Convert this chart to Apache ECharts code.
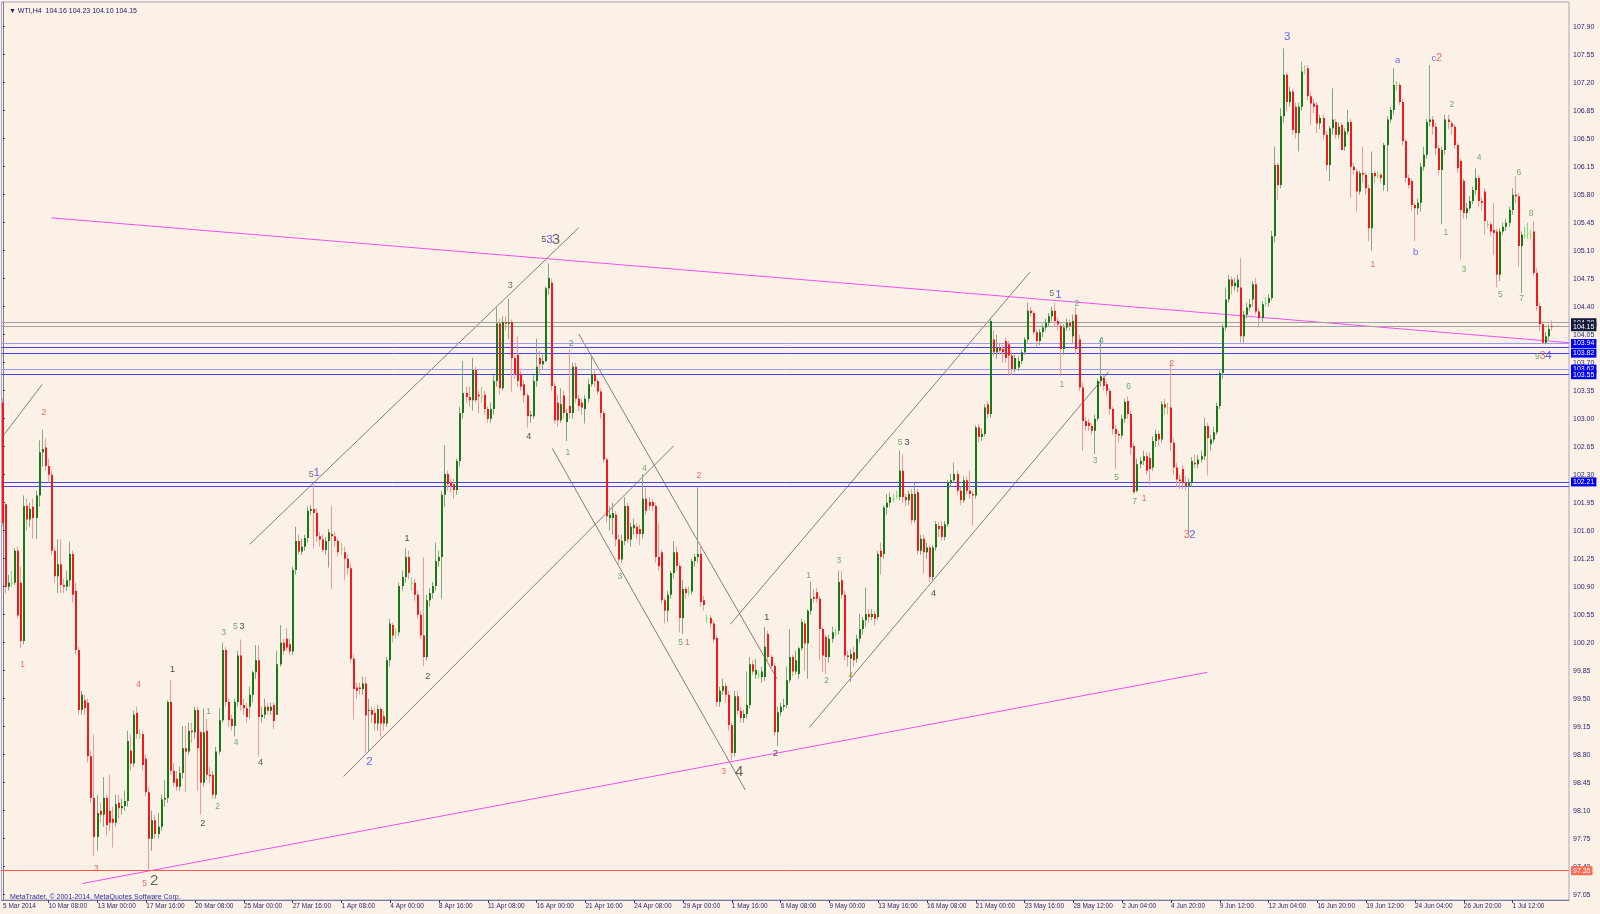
<!DOCTYPE html>
<html><head><meta charset="utf-8">
<script src="https://cdn.jsdelivr.net/npm/echarts@6/dist/echarts.min.js"></script>
<style>html,body{margin:0;padding:0;background:#fbf1e6;}#c{width:1600px;height:914px;}</style>
</head><body><div id="c"></div>
<script>
// rows: [open, close, low, high]  (H4 bars, 5 Mar 2014 20:00 onwards)
const candlesMar = [
[103.20,101.70,101.65,103.25],[101.93,100.90,100.82,101.95],[100.90,100.95,100.85,101.05],[100.95,100.95,100.90,101.10],
[100.95,101.35,100.92,101.38],[101.35,100.54,100.50,101.40],[100.95,100.22,100.13,101.15],[100.22,101.91,100.18,102.04],
[101.91,101.74,101.60,102.00],[101.74,101.87,101.65,101.95],[101.90,101.76,101.50,102.00],[101.76,102.04,101.50,102.10],
[102.04,102.58,101.90,102.73],[102.58,102.62,102.40,102.86],[102.64,102.41,102.35,102.75],[102.41,102.30,102.20,102.50],
[102.30,101.35,101.30,102.35],[101.35,101.03,100.95,101.40],[101.03,101.18,100.82,101.49],[101.18,100.92,100.82,101.49],
[100.92,100.90,100.82,101.00],[100.90,100.98,100.85,101.10],[100.98,101.31,100.90,101.46],[101.31,100.80,100.70,101.35],
[100.85,100.11,100.05,100.95],[100.11,99.36,99.30,100.15],[99.36,99.55,99.30,99.60],[99.48,99.38,99.30,99.55],
[99.45,98.78,98.70,99.50],[98.78,98.26,98.20,98.85],[98.26,97.77,97.53,99.05],[97.77,98.07,97.60,98.30],
[98.10,98.05,97.95,98.20],[98.05,98.26,97.90,98.52],[98.26,97.92,97.79,98.30],[98.10,97.95,97.85,98.55],
[98.00,97.95,97.64,98.15],[97.95,98.18,97.90,98.30],[98.20,98.13,98.00,98.30],[98.13,98.16,98.05,98.25],
[98.16,98.22,98.10,98.35],[98.22,98.97,98.15,99.10],[98.85,98.69,98.60,99.05],[98.69,99.30,98.65,99.35],
[99.32,99.06,99.00,99.40],[99.06,99.06,99.00,99.12],[99.06,98.67,98.60,99.10],[98.75,98.33,98.28,98.80],
[98.33,97.75,97.35,98.40],[97.75,97.98,97.60,98.10],[97.98,97.81,97.75,98.05],[97.81,97.90,97.75,98.07],
[97.90,98.24,97.85,98.30],[98.24,98.26,98.15,98.48],[98.26,99.46,98.20,99.48],[99.46,98.60,98.55,99.74],
[98.60,98.45,98.40,98.70],[98.50,98.40,98.35,98.60],[98.40,98.57,98.35,98.65],[98.57,98.88,98.50,99.16],
[98.88,98.84,98.33,99.16],[98.84,99.10,98.80,99.20],[99.10,99.08,98.95,99.20],[99.08,99.36,99.00,99.40],
[99.36,98.88,98.35,99.40],[99.08,98.45,98.05,99.10],[98.45,99.08,98.40,99.38],[99.10,98.55,98.48,99.25],
[98.55,98.53,98.45,98.65],[98.55,98.30,98.25,98.60],[98.30,98.84,98.25,98.90],[98.84,99.23,98.80,99.38],
[99.23,100.11,99.20,100.20],[100.11,99.46,99.40,100.15],[99.46,99.23,99.15,99.50],[99.25,99.16,99.10,99.30],
[99.16,99.46,99.03,99.50],[99.46,100.04,99.40,100.10],[100.04,99.42,99.35,100.24],[99.42,99.38,99.30,99.50],
[99.38,99.27,99.20,99.45],[99.40,99.55,99.25,99.65],[99.55,99.83,99.45,99.85],[99.83,99.98,99.75,100.17],
[99.98,99.27,98.78,100.17],[99.27,99.30,99.20,99.40],[99.30,99.40,99.25,99.50],[99.40,99.35,99.30,99.45]
];
const candlesApr = [
[99.35,99.40,99.30,99.45],[99.42,99.22,99.12,99.45],[99.30,99.93,99.30,100.10],[99.93,100.20,99.90,100.42],
[100.20,100.10,100.05,100.25],[100.25,100.14,100.10,100.38],[100.18,100.09,100.05,100.25],[100.09,101.11,100.05,101.15],
[101.11,101.47,101.05,101.65],[101.47,101.34,101.30,101.55],[101.34,101.40,101.30,101.50],[101.40,101.51,101.35,101.55],
[101.51,101.85,101.45,101.90],[101.85,101.87,101.80,101.92],[101.87,101.82,101.38,102.18],[101.82,101.53,101.46,101.88],
[101.53,101.49,101.40,101.58],[101.49,101.36,101.33,101.55],[101.36,101.47,101.30,101.52],[101.47,101.58,101.14,101.62],
[101.56,101.53,100.87,101.91],[101.53,101.47,101.40,101.58],[101.47,101.33,101.28,101.50],[101.38,101.38,101.30,101.45],
[101.33,101.25,100.98,101.40],[101.25,101.13,101.05,101.30],[101.13,100.00,99.95,101.18],[100.00,99.62,99.24,100.05],
[99.64,99.60,99.50,99.70],[99.64,99.62,99.55,99.70],[99.62,99.69,99.55,99.78],[99.69,99.29,98.82,99.77],
[99.35,99.36,98.84,99.50],[99.36,99.30,99.20,99.40],[99.32,99.19,99.10,99.38],[99.19,99.37,99.10,99.42],
[99.37,99.19,99.02,99.40],[99.28,99.19,99.10,99.35],[99.19,99.98,99.15,100.02],[99.98,100.44,99.90,100.50],
[100.42,100.29,100.20,100.45],[100.32,100.32,100.25,100.38],[100.33,100.91,100.28,100.95],[100.91,101.02,100.85,101.10],
[101.02,101.27,100.95,101.38],[101.27,101.07,101.00,101.35],[100.95,100.95,100.85,101.02],[100.95,100.80,100.72,101.00],
[100.80,100.55,100.50,100.85],[100.55,100.29,100.25,100.60],[100.29,100.02,99.91,101.27],[100.02,100.73,99.98,100.80],
[100.73,100.82,100.65,100.88],[100.82,100.91,100.75,100.96],[100.91,101.22,100.85,101.45],[101.22,101.27,101.15,101.35],
[101.27,102.05,100.75,102.10],[102.05,102.31,101.90,102.67],[102.31,102.18,102.10,102.35],[102.20,102.16,102.08,102.25],
[102.18,102.11,102.00,102.25],[102.11,102.47,102.05,102.50],[102.47,103.07,102.40,103.15],[103.07,103.32,103.00,103.72],
[103.32,103.27,103.20,103.40],[103.27,103.23,103.15,103.40],[103.23,103.61,103.10,103.76],[103.61,103.23,103.20,103.65],
[103.30,103.28,103.07,103.35],[103.28,103.28,103.20,103.40],[103.30,103.12,103.05,103.35],[103.12,103.00,102.95,103.15],
[103.00,103.12,102.95,103.20],[103.12,103.47,103.05,103.55],[103.47,104.19,103.40,104.39],[104.19,103.38,103.30,104.25],
[103.38,104.21,103.35,104.28],[104.21,104.19,104.10,104.28],[104.19,104.21,104.00,104.50],[104.21,103.76,103.34,104.24],
[103.76,103.56,103.50,103.80],[103.80,103.47,103.40,104.03],[103.56,103.40,103.35,103.60],[103.43,103.29,103.20,103.48],
[103.29,103.03,102.89,103.32],[103.03,103.05,102.95,103.10]
];
const candlesAprMay = [
[103.03,103.47,103.00,103.55],[103.47,103.65,103.40,104.00],[103.76,103.68,103.55,103.85],[103.68,103.72,103.62,103.80],
[103.72,104.63,103.70,104.65],[104.63,104.76,104.55,104.94],[104.70,103.41,103.35,104.75],[103.41,102.98,102.94,103.45],
[103.20,102.98,102.90,103.30],[102.98,103.18,102.95,103.38],[103.29,103.07,103.00,103.35],[102.96,103.07,102.72,103.12],
[103.16,103.07,103.00,103.87],[103.07,103.65,103.00,103.70],[103.65,103.25,103.20,103.70],[103.25,103.16,103.10,103.30],
[103.20,103.14,103.05,103.25],[103.12,103.25,102.94,103.30],[103.25,103.43,103.20,103.50],[103.43,103.56,103.40,103.78],
[103.56,103.47,103.40,103.60],[103.47,103.34,103.30,103.50],[103.34,103.07,103.00,103.38],[103.07,102.49,102.45,103.10],
[102.49,101.78,101.70,102.52],[101.76,101.80,101.60,101.90],[101.76,101.82,101.55,101.95],[101.80,101.49,101.40,101.85],
[101.49,101.24,101.16,101.55],[101.24,101.47,101.20,101.55],[101.47,101.91,101.42,102.02],[101.91,101.49,101.45,101.95],
[101.49,101.65,101.40,101.70],[101.63,101.67,101.55,101.75],[101.65,101.56,101.50,101.70],[101.62,101.56,101.42,101.68],
[101.56,102.00,101.50,102.31],[102.00,101.85,101.80,102.14],[101.96,101.91,101.85,102.02],[101.96,101.91,101.85,102.00],
[101.91,101.27,101.20,101.95],[101.27,101.16,101.10,101.69],[101.33,100.73,100.68,101.36],[100.73,100.60,100.44,100.76],
[100.60,100.80,100.46,100.85],[100.80,101.07,100.75,101.10],[101.07,101.33,101.00,101.47],[101.33,101.16,101.10,101.40],
[101.16,100.51,100.33,101.20],[100.51,100.87,100.31,100.98],[100.87,100.82,100.75,100.90],[100.84,100.84,100.78,100.90],
[100.84,101.22,100.80,101.25],[101.22,101.27,101.15,101.31],[101.27,101.31,101.20,102.14],[101.31,100.71,100.65,101.42],
[100.73,100.67,100.60,100.78],[100.51,100.51,100.45,100.55],[100.51,100.44,100.38,100.55],[100.44,100.24,100.20,100.48],
[100.26,99.46,99.40,100.30],[99.46,99.60,99.40,99.65],[99.60,99.66,99.55,99.75],[99.66,99.55,99.45,99.70],
[99.55,99.17,99.10,99.60],[99.17,98.82,98.73,99.20],[98.82,99.53,98.78,99.60],[99.53,99.35,99.30,99.60],
[99.35,99.26,99.20,99.40],[99.26,99.31,99.20,99.36],[99.31,99.42,99.25,99.84],[99.42,99.93,99.38,100.02],
[99.93,99.84,99.80,99.98],[99.80,99.86,99.75,100.00],[99.80,99.80,99.75,99.85],[99.77,99.84,99.70,99.90],
[99.77,100.15,99.72,100.40],[100.31,100.02,99.95,100.35],[100.02,99.91,99.85,100.05],[99.91,99.08,99.04,99.95],
[99.08,99.33,98.91,99.40],[99.33,99.40,99.28,99.45],[99.40,99.42,99.35,99.50],[99.42,99.73,99.38,99.90],
[99.73,100.02,99.70,100.37],[100.02,99.84,99.78,100.05],[99.84,99.98,99.80,100.10]
];
const candlesMay = [
[99.81,100.13,99.75,100.15],[100.13,100.46,100.10,100.50],[100.44,100.19,99.85,100.48],[100.19,100.60,99.75,100.62],
[100.60,100.75,100.55,100.96],[100.77,100.75,100.70,100.87],[100.83,100.75,100.70,100.88],[100.75,100.37,99.98,100.78],
[100.37,100.04,99.83,100.40],[100.27,100.02,99.81,100.30],[100.02,100.25,99.95,100.30],[100.25,100.33,100.20,100.40],
[100.32,100.32,100.28,100.38],[100.35,100.96,100.30,101.10],[100.98,100.80,100.75,101.10],[100.80,100.04,99.98,100.85],
[100.04,100.02,99.90,100.10],[100.00,100.06,99.71,100.12],[100.08,99.98,99.90,100.15],[100.00,100.25,99.95,100.30],
[100.25,100.37,100.20,100.56],[100.37,100.48,100.30,100.52],[100.48,100.56,100.40,100.89],[100.56,100.52,100.45,100.62],
[100.52,100.56,100.48,100.62],[100.56,100.50,100.42,100.60],[100.52,101.31,100.48,101.35],[101.35,101.27,101.05,101.45],
[101.31,101.89,101.25,101.92],[101.89,101.95,101.80,102.06],[101.95,102.02,101.90,102.08],[102.00,102.00,101.95,102.06],
[102.04,102.04,102.00,102.10],[102.02,102.35,101.98,102.60],[102.35,102.02,101.95,102.56],[102.02,101.98,101.90,102.06],
[101.98,102.06,101.92,102.10],[102.06,101.73,101.68,102.12],[101.73,102.06,101.70,102.20],[102.08,101.35,101.30,102.12],
[101.35,101.50,101.30,101.55],[101.50,101.33,101.06,101.55],[101.33,101.39,101.25,101.45],[101.39,101.02,100.96,101.42],
[101.02,101.39,100.98,101.42],[101.39,101.68,101.35,101.72],[101.66,101.62,101.52,101.70],[101.66,101.52,101.48,101.72],
[101.52,101.68,101.48,101.72],[101.68,102.20,101.65,102.23],[102.20,102.23,102.15,102.31],[102.23,102.31,102.20,102.45],
[102.31,102.10,102.05,102.35],[102.10,101.98,101.92,102.15],[101.98,102.23,101.95,102.28],[102.23,102.10,102.05,102.28],
[102.10,102.06,102.00,102.35],[102.06,102.04,101.66,102.10],[102.04,102.89,102.00,102.92],[102.89,102.77,102.70,102.93],
[102.77,102.81,102.72,102.88],[102.81,103.14,102.78,103.18],[103.18,103.06,103.00,103.22],[103.06,104.22,103.01,104.25],
[103.99,103.83,103.78,104.10],[103.83,103.89,103.75,104.05],[103.89,103.85,103.80,103.95],[103.87,103.83,103.70,103.92],
[103.97,103.76,103.70,104.01],[103.93,103.79,103.53,103.97],[103.79,103.62,103.55,103.85],[103.62,103.76,103.58,103.80],
[103.64,103.72,103.60,103.78],[103.72,103.83,103.68,103.87],[103.83,103.99,103.80,104.02],[103.99,104.35,103.95,104.45],
[104.35,104.32,104.28,104.40],[104.32,104.08,104.05,104.35],[104.08,103.97,103.90,104.12],[103.97,104.08,103.92,104.12],
[104.08,104.14,104.02,104.18],[104.14,104.20,104.10,104.25],[104.20,104.28,104.15,104.32],[104.28,104.35,104.22,104.40],
[104.35,104.22,104.15,104.45],[104.22,104.18,104.10,104.26],[104.16,103.87,103.53,104.20],[103.87,104.14,103.80,104.18]
];
const candlesJun = [
[104.14,104.20,104.10,104.25],[104.20,104.16,104.10,104.24],[104.03,104.22,103.95,104.30],[104.30,103.87,103.80,104.39],
[103.99,103.39,103.35,104.05],[103.39,102.97,102.60,103.45],[102.97,102.91,102.85,103.02],[102.95,102.91,102.85,103.00],
[102.91,102.85,102.80,102.95],[102.85,103.00,102.56,103.05],[103.00,103.47,102.97,103.50],[103.47,103.53,103.40,104.01],
[103.51,103.41,103.35,103.55],[103.43,103.35,103.28,103.47],[103.35,103.12,103.05,103.38],[103.12,102.87,102.80,103.15],
[102.87,102.81,102.37,102.92],[102.81,102.79,102.70,102.85],[102.79,103.00,102.75,103.05],[103.00,103.21,102.95,103.25],
[103.22,103.06,103.00,103.28],[103.06,102.64,102.55,103.10],[102.66,102.08,102.06,102.70],[102.10,102.43,102.08,102.50],
[102.43,102.47,102.38,102.52],[102.47,102.53,102.42,102.60],[102.53,102.35,102.30,102.58],[102.51,102.37,102.18,102.58],
[102.39,102.72,102.35,102.78],[102.72,102.81,102.65,102.86],[102.81,102.74,102.66,102.85],[102.74,103.18,102.70,103.22],
[103.18,103.14,103.05,103.25],[103.14,103.14,103.05,103.20],[103.14,102.70,102.60,103.72],[102.70,102.39,102.30,102.75],
[102.39,102.24,102.15,102.45],[102.24,102.22,102.12,102.30],[102.37,102.20,102.12,102.42],[102.20,102.16,102.10,102.28],
[102.16,102.20,101.56,102.25],[102.20,102.47,102.15,102.52],[102.45,102.43,102.38,102.55],[102.43,102.49,102.38,102.55],
[102.49,102.53,102.45,102.60],[102.53,102.91,102.48,103.01],[102.91,102.76,102.29,102.95],[102.68,102.74,102.60,102.80],
[102.74,102.83,102.70,102.90],[102.83,103.16,102.80,103.20],[103.16,103.57,103.12,103.60],[103.57,104.14,103.50,104.18],
[104.14,104.49,104.10,104.64],[104.49,104.74,104.45,104.80],[104.74,104.66,104.55,104.78],[104.66,104.70,104.60,104.76],
[104.64,104.74,104.58,104.80],[104.64,104.03,103.95,105.01],[104.03,104.30,103.95,104.35],[104.30,104.39,104.25,104.45],
[104.39,104.43,104.35,104.50],[104.49,104.68,104.40,104.72],[104.68,104.34,104.30,104.76],[104.34,104.26,104.16,104.38],
[104.26,104.43,104.20,104.47],[104.45,104.45,104.40,104.52],[104.45,104.51,104.40,104.56],[104.51,105.28,104.48,105.35],
[105.28,106.17,105.20,106.40],[106.17,105.92,105.74,106.20],[105.92,106.78,105.88,106.88],[106.78,107.30,106.70,107.63],
[107.30,106.96,106.84,107.32],[106.96,107.09,106.90,107.15],[107.09,106.61,106.55,107.12],[106.90,106.57,106.50,106.95],
[106.57,106.90,106.34,106.95],[106.90,107.34,106.85,107.46],[107.36,107.36,107.30,107.42]
];
const candlesJunJul = [
[107.38,107.03,106.98,107.42],[107.03,106.94,106.67,107.08],[106.94,106.90,106.82,107.00],[106.92,106.69,106.57,106.96],
[106.69,106.76,106.62,106.80],[106.76,106.55,106.49,106.80],[106.55,106.17,106.10,106.60],[106.17,106.63,105.97,106.66],
[106.63,106.74,106.55,107.13],[106.71,106.55,106.50,106.75],[106.55,106.65,106.50,106.70],[106.67,106.36,106.36,106.70],
[106.40,106.59,106.35,106.63],[106.59,106.71,106.55,106.86],[106.71,106.15,105.76,106.75],[106.15,106.11,106.05,106.20],
[106.09,105.84,105.59,106.12],[105.84,106.07,105.80,106.10],[106.07,106.05,105.95,106.40],[106.05,105.88,105.80,106.08],
[105.88,105.38,105.22,105.92],[105.38,106.07,105.10,106.34],[106.07,106.03,105.95,106.10],[106.05,106.05,106.00,106.10],
[106.05,106.01,105.95,106.08],[105.92,106.42,105.85,106.45],[106.42,106.74,105.84,106.78],[106.74,106.86,106.70,106.90],
[106.86,107.17,106.80,107.38],[107.17,107.17,107.10,107.22],[107.17,106.96,106.92,107.20],[106.96,106.47,106.42,107.00],
[106.47,106.01,105.95,106.50],[106.01,105.92,105.88,106.05],[105.97,105.67,105.60,106.00],[105.67,105.63,105.22,105.70],
[105.63,105.70,105.55,105.75],[105.70,106.15,105.59,106.20],[106.15,106.30,106.10,106.40],[106.30,106.71,106.25,106.75],
[106.71,106.74,106.65,107.42],[106.74,106.65,106.55,106.78],[106.65,106.38,106.30,106.70],[106.38,106.11,106.05,106.42],
[106.11,106.36,105.43,106.40],[106.36,106.74,106.30,106.80],[106.74,106.71,106.62,106.80],[106.69,106.65,106.55,106.72],
[106.65,106.42,106.38,106.68],[106.42,106.13,106.08,106.45],[106.22,105.61,104.99,106.25],[105.97,105.57,105.50,106.00],
[105.57,105.63,105.50,105.70],[105.63,105.72,105.60,105.78],[105.72,105.86,105.68,105.90],[105.86,106.01,105.80,106.13],
[106.01,105.72,105.65,106.05],[105.72,105.70,105.60,105.76],[105.84,105.47,105.30,105.88],[105.43,105.43,105.38,105.48],
[105.43,105.34,105.28,105.46],[105.36,105.32,105.05,105.70],[105.34,104.80,104.64,105.38],[104.80,105.34,104.72,105.38],
[105.34,105.40,105.30,105.45],[105.40,105.45,105.35,105.50],[105.45,105.61,105.40,105.65],[105.61,105.80,105.55,105.88],
[105.80,105.78,105.70,106.03],[105.78,105.16,104.90,105.82],[105.16,105.30,104.57,105.34],[105.30,105.30,105.25,105.40],
[105.32,105.32,105.25,105.45],[105.30,105.30,105.24,105.36],[105.34,104.82,104.78,105.47],[104.82,104.41,104.35,104.88],
[104.41,104.18,104.10,104.45],[104.18,103.95,103.93,104.22],[103.95,104.03,103.93,104.08],[104.03,104.12,103.98,104.18],
[104.16,104.15,104.10,104.23]
];
const ohlc = [].concat(candlesMar, candlesApr, candlesAprMay, candlesMay, candlesJun, candlesJunJul);
const slotCount = 514; // visible bar slots including empty right margin

const tickBars = [0,15,31,47,63,79,95,111,127,143,159,175,191,207,223,239,255,271,287,303,319,335,351,367,383,399,415,431,447,463,479,495];
const tickLabels = ['5 Mar 2014','10 Mar 08:00','13 Mar 00:00','17 Mar 16:00','20 Mar 08:00','25 Mar 00:00','27 Mar 16:00','1 Apr 08:00','4 Apr 00:00','8 Apr 16:00','11 Apr 08:00','16 Apr 00:00','21 Apr 16:00','24 Apr 08:00','29 Apr 00:00','1 May 16:00','6 May 08:00','9 May 00:00','13 May 16:00','16 May 08:00','21 May 00:00','23 May 16:00','28 May 12:00','2 Jun 04:00','4 Jun 20:00','9 Jun 12:00','12 Jun 04:00','16 Jun 20:00','19 Jun 12:00','24 Jun 04:00','26 Jun 20:00','1 Jul 12:00'];
const priceTicks = [97.05,97.40,97.75,98.10,98.45,98.80,99.15,99.50,99.85,100.20,100.55,100.90,101.25,101.60,101.95,102.30,102.65,103.00,103.35,103.70,104.05,104.40,104.75,105.10,105.45,105.80,106.15,106.50,106.85,107.20,107.55,107.90];

// horizontal levels
const levelPrices = [103.89,102.16,104.20,104.15,103.94,103.82,103.62,103.55,102.21,97.35];
const levelKinds  = ['blue','blue','gray','gray','pale','blue','pale','blue','blue','red'];
const levelBoxed  = [false,false,true,true,true,true,true,true,true,true];

// trend lines: [bar1, price1, bar2, price2]
const channelLines = [
 [0.3,102.80,12.9,103.43],[80.9,101.43,188.7,105.385],[111.7,98.53,219.9,102.66],
 [188.8,104.06,253.8,99.75],[180.1,102.63,243.4,98.36],[238.5,100.43,336.7,104.83],[264.4,99.14,362.6,103.59]
];
const magentaLines = [[15.9,105.51,513.6,103.95],[25.97,97.19,394.9,99.83]];

// wave labels: [bar, price, text, degree]
const waveMarks = [
 [13.4,103.08,'2','r'],[6.4,99.93,'1','r'],[30.5,97.38,'3','r'],[44.5,99.68,'4','r'],[46.4,97.19,'5','r'],[49.6,97.22,'2','B'],
 [55.6,99.86,'1','k'],[65.5,97.94,'2','k'],[72.3,100.33,'3','g'],[76.2,100.40,'5','g'],[78.4,100.40,'3','k'],[76.4,98.95,'4','g'],
 [70.4,98.15,'2','g'],[67.4,99.34,'1','g'],[84.4,98.70,'4','k'],
 [101.1,102.30,'5','n'],[102.9,102.32,'1','b'],[120.2,98.71,'2','b'],[132.5,101.50,'1','k'],[139.3,99.78,'2','k'],[166.3,104.66,'3','n'],[172.4,102.78,'4','k'],
 [177.3,105.24,'5','k'],[179.2,105.24,'3','b'],[181.3,105.24,'3','B'],[186.3,103.94,'2','t'],[185.2,102.58,'1','g'],[210.3,102.38,'4','g'],
 [202.3,101.02,'3','g'],[228.2,102.29,'2','r'],[222.2,100.20,'5','g'],[224.4,100.20,'1','r'],[236.3,98.59,'3','r'],[241.4,98.59,'4','B'],
 [250.4,100.51,'1','k'],[253.3,98.81,'2','k'],
 [264.2,101.04,'1','g'],[270.1,99.73,'2','g'],[274.1,101.23,'3','g'],[278,99.79,'4','o'],[294.2,102.70,'5','g'],[296.4,102.70,'3','k'],
 [305.1,100.81,'4','k'],[343.9,104.57,'5','n'],[346.1,104.55,'1','b'],[347.2,103.43,'1','g'],
 [352.1,104.44,'2','g'],[360.1,103.98,'4','t'],[358.1,102.48,'3','g'],[369.1,103.40,'6','g'],[365.2,102.26,'5','g'],[371.1,101.96,'7','g'],
 [374.2,102.00,'1','r'],[383.3,103.69,'2','r'],[388.2,101.55,'3','R'],[390.0,101.55,'2','b'],[421.1,107.77,'3','b'],
 [457.3,107.48,'a','L'],[469.2,107.51,'c','L'],[470.9,107.51,'2','R'],[449.2,104.93,'1','r'],[463.2,105.08,'b','L'],
 [475.1,106.92,'2','g'],[473.1,105.32,'1','g'],[479.0,104.86,'3','g'],[484.0,106.26,'4','g'],[491.0,104.55,'5','g'],
 [497.1,106.08,'6','g'],[498.0,104.50,'7','g'],[501.1,105.56,'8','g'],[503.1,103.78,'9','g'],[504.8,103.78,'3','R'],[506.8,103.78,'4','b']
];

// ---------- styles ----------
const FONT = 'Liberation Sans, Arial, sans-serif';
const BULL = '#167a16', BULL_WICK = '#7fa87f', BEAR = '#f41818', BEAR_WICK = '#f29a9a', DOJI = '#7fe07f';
const degreeStyle = {
 r:{c:'#f2493c',s:8.5}, R:{c:'#f2493c',s:11}, g:{c:'#4a9a4a',s:8.5}, k:{c:'#222222',s:9}, b:{c:'#3c3cee',s:11.5},
 L:{c:'#4646ee',s:9.5}, B:{c:'#444444',s:15}, n:{c:'#4d4d4d',s:9}, o:{c:'#c99a30',s:9}, t:{c:'#358c6a',s:9}
};
const levelColor = {blue:'#4444f4', pale:'#9a9af0', gray:'#a2a2a2', red:'#ff5a46'};
const boxColor = {blue:'#0000f0', pale:'#0000f0', gray:'#141c3c', red:'#ff6a55'};

const labelAt = {};
tickBars.forEach((b, k) => labelAt[b] = tickLabels[k]);
const categories = Array.from({length: slotCount}, (_, i) => labelAt[i] || '');
const candleData = ohlc.map((r, i) => [i, r[0], r[1], r[2], r[3]]);

function renderCandle(params, api) {
  const i = api.value(0), o = api.value(1), c = api.value(2), l = api.value(3), h = api.value(4);
  const pO = api.coord([i, o]), pC = api.coord([i, c]), pL = api.coord([i, l]), pH = api.coord([i, h]);
  const px = Math.round(pO[0]);
  const doji = o === c, up = c > o;
  const wc = doji ? DOJI : (up ? BULL_WICK : BEAR_WICK);
  const bc = doji ? DOJI : (up ? BULL : BEAR);
  const top = Math.min(pO[1], pC[1]), bot = Math.max(pO[1], pC[1]);
  return {type:'group', children:[
    {type:'line', shape:{x1:px-0.5, y1:pH[1], x2:px-0.5, y2:pL[1]}, style:{stroke:wc, lineWidth:1}},
    {type:'rect', shape:{x:px-1, y:top, width:2, height:Math.max(1, bot-top)}, style:{fill:bc}}
  ]};
}

const lineSeries = [];
channelLines.forEach(L => lineSeries.push({type:'line', xAxisIndex:1, data:[[L[0],L[1]],[L[2],L[3]]], symbol:'none', silent:true,
  lineStyle:{color:'#6a6a6a', width:1, opacity:0.85}, z:3}));
magentaLines.forEach(L => lineSeries.push({type:'line', xAxisIndex:1, data:[[L[0],L[1]],[L[2],L[3]]], symbol:'none', silent:true,
  lineStyle:{color:'#f050f0', width:1}, z:3}));

const levelData = levelPrices.map((p, k) => {
  const kind = levelKinds[k];
  const d = {yAxis:p, lineStyle:{color:levelColor[kind], width:1, type:'solid', opacity:1}, label:{show:false}};
  if (levelBoxed[k]) d.label = {show:true, position:'end', distance:2, formatter:p.toFixed(2), color:'#ffffff',
    backgroundColor:boxColor[kind], padding:[1,2,0,2], fontSize:7, fontFamily:FONT, lineHeight:8};
  return d;
});

const chart = echarts.init(document.getElementById('c'), null, {renderer:'canvas'});
const last = ohlc[ohlc.length-1];
chart.setOption({
  animation:false,
  backgroundColor:'#fbf1e6',
  title:[
    {text:'\u25BC WTI,H4  ' + [last[0], last[3], last[2], last[1]].map(v => v.toFixed(2)).join(' '), left:4, top:3,
     textStyle:{fontSize:7, color:'#20206a', fontWeight:'normal', fontFamily:FONT}},
    {text:'MetaTrader, \u00A9 2001-2014, MetaQuotes Software Corp.', left:5, top:889,
     textStyle:{fontSize:7, color:'#2e2e9a', fontWeight:'normal', fontFamily:FONT}}
  ],
  grid:{left:1, right:31, top:2, bottom:14, show:true, borderColor:'#a6a6c2', borderWidth:1},
  xAxis:[
    {type:'category', data:categories, boundaryGap:true,
     axisLine:{show:true, lineStyle:{color:'#7878a0'}},
     axisTick:{show:true, alignWithLabel:true, length:3, interval:(i)=> i > 0 && labelAt[i] !== undefined, lineStyle:{color:'#3a3a7a'}},
     axisLabel:{interval:(i)=> labelAt[i] !== undefined, align:'left', fontSize:6.5, color:'#2a2a70', margin:3, fontFamily:FONT, hideOverlap:false},
     splitLine:{show:false}},
    {type:'value', min:-0.5, max:slotCount-0.5, show:false}
  ],
  yAxis:{type:'value', position:'right', min:96.984, max:108.209,
    axisLine:{show:true, lineStyle:{color:'#7878a0'}},
    axisTick:{show:true, length:2, customValues:priceTicks, lineStyle:{color:'#3a3a7a'}},
    axisLabel:{customValues:priceTicks, formatter:(v)=>v.toFixed(2), fontSize:7, color:'#2a2a70', margin:4, fontFamily:FONT},
    splitLine:{show:false}},
  series:[
    {type:'line', xAxisIndex:1, data:[], symbol:'none', silent:true, z:2,
     markLine:{symbol:['none','none'], silent:true, animation:false, data:levelData, emphasis:{disabled:true}}},
    ...lineSeries,
    {type:'custom', xAxisIndex:0, renderItem:renderCandle, data:candleData, encode:{x:0, y:[1,2,3,4]}, clip:true, silent:true, z:5},
    {type:'scatter', xAxisIndex:1, symbolSize:1, silent:true, z:10, itemStyle:{color:'rgba(0,0,0,0)'},
     data:waveMarks.map(m => ({value:[m[0], m[1]], label:{show:true, position:'inside', formatter:m[2],
       color:degreeStyle[m[3]].c, fontSize:degreeStyle[m[3]].s, fontFamily:FONT}}))}
  ]
});
</script></body></html>
